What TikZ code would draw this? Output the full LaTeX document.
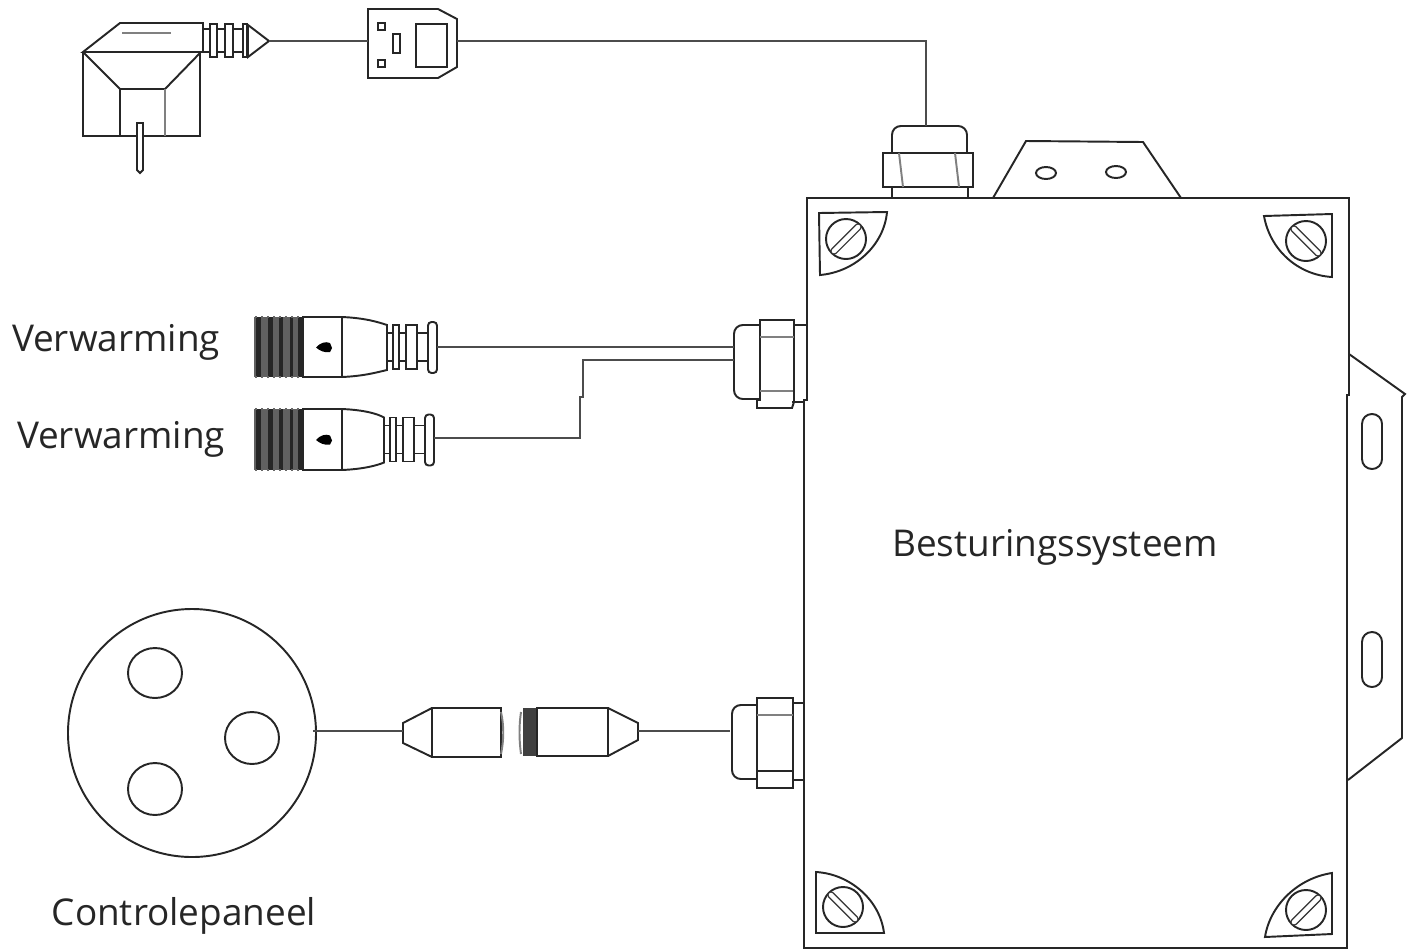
\documentclass[tikz,border=0pt]{standalone}
\usepackage{fontspec}
\setmainfont{Open Sans}
\usepackage{tikz}

\begin{document}
\begin{tikzpicture}[x=0.01cm,y=-0.01cm,
  outline/.style={line width=0.55pt,draw=black!85},
  soft/.style={line width=0.55pt,draw=black!50},
  wire/.style={line width=0.55pt,draw=black!70},
  slot/.style={line width=0.4pt,draw=black!80,double=white,double distance=1.3pt,line cap=round},
  label/.style={font=\fontsize{10.5pt}{12pt}\selectfont,text=black!85,inner sep=0pt}]

\useasboundingbox (0,0) rectangle (1415,951);

% mains plug
\begin{scope}[outline]
\draw (83,52) -- (120,23) -- (203,23) -- (203,52) -- cycle;
\draw (83,52) -- (83,136) -- (200,136) -- (200,53);
\draw (83,52) -- (120,89) -- (165,89) -- (200,53);
\draw (120,89) -- (120,136);
\draw[soft] (165,89) -- (165,136);
\draw[soft] (122,33) -- (171,33);
\draw[fill=white] (137,123) -- (143,123) -- (143,170) -- (140,173) -- (137,170) -- cycle;
\draw (203,29) rectangle (243,52);
\foreach \x/\w in {210/7,225/8,243/4}
  \draw[fill=white] (\x,24) rectangle (\x+\w,57);
\draw (248,25) -- (269,41) -- (248,57) -- cycle;
\end{scope}

% inline socket
\begin{scope}[outline]
\draw (368,9) -- (438,9) -- (457,19) -- (457,67) -- (438,78) -- (368,78) -- cycle;
\foreach \y in {23,60} \draw (378,\y) rectangle (385,\y+7);
\draw (393,34) rectangle (400,53);
\draw (416,24) rectangle (447,67);
\end{scope}

% control box
\draw[outline] (807,198) -- (1349,198) -- (1349,395) -- (1347,395) -- (1347,948)
  -- (804,948) -- (804,400) -- (807,400) -- cycle;

% top bracket
\draw[outline] (993,198) -- (1026,141) -- (1143,142) -- (1181,198);
\draw[outline] (1046,173) ellipse (10 and 6);
\draw[outline] (1116,172) ellipse (10 and 6);

% side bracket
\draw[outline] (1349,354) -- (1405,394) -- (1402,397) -- (1402,738) -- (1348,780);
\foreach \y in {414,632}
  \draw[outline,rounded corners=2.8pt] (1362,\y) rectangle (1382,\y+55);

% corner plates
\draw[outline] (819,213) -- (887,212) .. controls (884,245) and (855,272) .. (820,275) -- cycle;
\draw[outline] (1332,214) -- (1264,216) .. controls (1270,250) and (1298,275) .. (1332,277) -- cycle;
\draw[outline] (816,872) .. controls (850,874) and (880,900) .. (884,933) -- (816,933) -- cycle;
\draw[outline] (1332,873) .. controls (1298,878) and (1270,905) .. (1265,937) -- (1332,934) -- cycle;
\foreach \cx/\cy/\sl in {846/239/12,1306/241/-12,843/907/-12,1306/910/12}
{
  \draw[outline] (\cx,\cy) circle (20);
  \draw[slot] (\cx,\cy) +(-12,\sl) -- +(12,-\sl);
}

% glands
\begin{scope}[outline]
\draw[rounded corners=2.5pt] (892,153) -- (892,126) -- (967,126) -- (967,153);
\draw (883,153) rectangle (973,187);
\draw[soft] (899,153) -- (903,187);
\draw[soft] (955,153) -- (959,187);
\draw (892,187) -- (892,198);
\draw (968,187) -- (968,198);

\draw[rounded corners=2.5pt] (760,325) -- (734,325) -- (734,399) -- (760,399);
\draw (760,320) -- (794,320) -- (794,402) -- (792,408) -- (757,408) -- (757,400) -- (760,400) -- cycle;
\draw[soft] (760,337) -- (794,337);
\draw[soft] (760,391) -- (793,391);
\draw (794,325) -- (807,325);
\draw (792,402) -- (804,402);

\draw[rounded corners=2.5pt] (757,705) -- (732,705) -- (732,779) -- (757,779);
\draw (757,698) rectangle (793,788);
\draw[soft] (757,715) -- (793,715);
\draw (757,771) -- (793,771);
\draw (793,703) -- (804,703);
\draw (793,780) -- (804,780);
\end{scope}

% heater plugs
\foreach \hy/\dx/\hs in {347/0/30,439.5/-3/30.5}
{
  \fill[black!62] (254,\hy-\hs) rectangle (303,\hy+\hs);
  \foreach \x/\w in {256/5,268/5,279/4,290/3,298/5}
    \fill[black!85] (\x,\hy-\hs) rectangle (\x+\w,\hy+\hs);
  \foreach \x in {256,262,...,300}
  {
    \draw[black!60,line width=0.5pt] (\x,\hy-\hs-1) -- (\x,\hy-\hs+1);
    \draw[black!60,line width=0.5pt] (\x,\hy+\hs-1) -- (\x,\hy+\hs+1);
  }
  \draw[outline] (303,\hy-\hs) rectangle (342,\hy+\hs);
  \fill[black] (316,\hy+0.5) .. controls (320,\hy-4) and (325,\hy-6) .. (330,\hy-4)
    -- (332,\hy+1) -- (330,\hy+5) .. controls (325,\hy+6) and (320,\hy+4) .. (316,\hy+0.5);
  \draw[outline] (342,\hy-\hs) .. controls (365,\hy-\hs+1) and (378,\hy-\hs+5) .. (387+\dx,\hy-22)
    -- (387+\dx,\hy+23) .. controls (378,\hy+\hs-5) and (365,\hy+\hs-1) .. (342,\hy+\hs);
  \draw[outline] (387+\dx,\hy-14) rectangle (428+\dx,\hy+14);
  \foreach \x/\w in {393/6,406/11}
    \draw[outline,fill=white] (\x+\dx,\hy-22) rectangle (\x+\dx+\w,\hy+22);
  \draw[outline,fill=white,rounded corners=1pt] (428+\dx,\hy-25) rectangle (437+\dx,\hy+26);
}

% control panel connector
\begin{scope}[outline]
\draw (192,733) circle (124);
\draw (155,673) ellipse (27 and 25);
\draw (252,738) ellipse (27 and 26);
\draw (155,789) ellipse (27 and 26);
\draw (432,708) -- (403,723) -- (403,743) -- (432,757);
\draw (432,708) rectangle (501,757);
\draw[soft] (501,712) .. controls (504,725) and (504,740) .. (501,754);
\fill[black!75] (523,708) rectangle (537,756);
\draw[soft] (521,712) .. controls (519,725) and (519,740) .. (521,754);
\draw (537,708) rectangle (608,756);
\draw (608,708) -- (638,723) -- (638,740) -- (608,756);
\end{scope}

% cable ends
\coordinate (plugtip) at (269,41);
\coordinate (socketin) at (368,41);
\coordinate (socketout) at (457,41);
\coordinate (glandtop) at (926,126);
\coordinate (heatone) at (437,347);
\coordinate (glandone) at (734,347);
\coordinate (heattwo) at (434,438);
\coordinate (benda) at (580,438);
\coordinate (bendb) at (580,397);
\coordinate (bendc) at (583,397);
\coordinate (bendd) at (583,360);
\coordinate (glandtwo) at (734,360);
\coordinate (paneledge) at (313,731);
\coordinate (maleend) at (403,731);
\coordinate (femaleend) at (638,731);
\coordinate (glandlow) at (730,731);

\draw[wire] (plugtip) -- (socketin);
\draw[wire] (socketout) -| (glandtop);
\draw[wire] (heatone) -- (glandone);
\draw[wire] (heattwo) -- (benda) -- (bendb) -- (bendc) -- (bendd) -- (glandtwo);
\draw[wire] (paneledge) -- (maleend);
\draw[wire] (femaleend) -- (glandlow);

\node[label] (heaterone) at (116,342) {Verwarming};
\node[label] (heatertwo) at (121,439) {Verwarming};
\node[label] (panel) at (184,916) {Controlepaneel};
\node[label] (system) at (1055,547) {Besturingssysteem};

\end{tikzpicture}
\end{document}
